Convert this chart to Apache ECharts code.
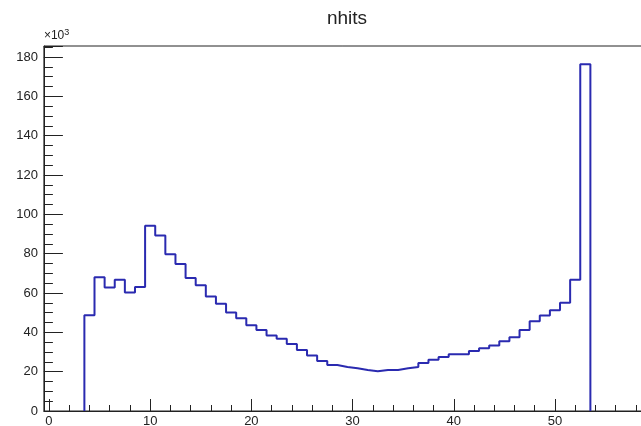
<!DOCTYPE html>
<html>
<head>
<meta charset="utf-8">
<script src="https://cdn.jsdelivr.net/npm/echarts@6/dist/echarts.min.js"></script>
<style>
    html, body { margin: 0; padding: 0; background: #fff; }
    #chart { width: 641px; height: 426px; }
</style>
</head>
<body>
<div id="chart"></div>
<script>
// histogram nhits, bin width 1, bins centred on integers
const firstBin = 4
const binValues = [
    48.7, 68.0, 62.8, 66.7, 60.3, 63.1, 94.2, 89.2, 79.7, 74.7,
    67.6, 64.0, 58.2, 54.5, 50.1, 47.2, 43.6, 41.2, 38.4, 36.8,
    34.1, 31.0, 28.2, 25.4, 23.4, 22.4, 21.7, 20.9, 20.2, 20.9,
    20.9, 21.7, 22.4, 24.4, 26.0, 27.5, 28.9, 28.9, 30.5, 31.9,
    33.3, 35.5, 37.5, 41.2, 45.6, 48.5, 51.2, 55.0, 66.7, 176.3
]
const yTicks = [0, 20, 40, 60, 80, 100, 120, 140, 160, 180]
const xTicks = [0, 10, 20, 30, 40, 50]

const chat = echarts.init(document.getElementById('chart'), null, { width: 641, height: 426 })

// bin edges -> step line
const lastBin = firstBin + binValues.length - 1
const steps = [[firstBin - 0.5, 0]]
binValues.forEach((v, i) => {
    steps.push([firstBin + i - 0.5, v])
})
steps.push([lastBin + 0.5, binValues[binValues.length - 1]])
steps.push([lastBin + 0.5, 0])

const pxPerUnit = 10.12
const xMin = -0.5
const xMax = 60
const yMax = 185.6
const frameLeft = 43.9
const font = 'Liberation Sans'
const ink = '#222'

// frame runs past the right edge of the picture (cropped like the original)
const frameGrid = {
    left: frameLeft, top: 46, bottom: 15,
    width: (xMax - xMin) * pxPerUnit,
    outerBoundsMode: 'none',
    containLabel: false
}
const noLine = { show: false, onZero: false }

const option = {
    animation: false,
    title: {
        text: 'nhits',
        left: 342,
        top: 4,
        textAlign: 'center',
        textStyle: { fontFamily: font, fontSize: 19, fontWeight: 'normal', color: ink }
    },
    grid: [
        // 0: frame + data
        Object.assign({ show: true, borderColor: ink, borderWidth: 1 }, frameGrid),
        // 1: x ticks, starts at 0
        {
            left: frameLeft + (0 - xMin) * pxPerUnit, top: 46, bottom: 15,
            width: xMax * pxPerUnit,
            outerBoundsMode: 'none',
            containLabel: false
        },
        // 2: same box as 0, only for the small y ticks
        Object.assign({}, frameGrid)
    ],
    xAxis: [
        {
            type: 'value', gridIndex: 0, min: xMin, max: xMax,
            axisLine: { show: true, onZero: false, lineStyle: { color: ink, width: 1 } },
            axisTick: { show: false }, axisLabel: { show: false }, splitLine: { show: false }
        },
        {
            type: 'value', gridIndex: 1, min: 0, max: xMax, interval: 10,
            axisLine: noLine,
            axisTick: { show: true, inside: true, length: 12, lineStyle: { color: ink } },
            axisLabel: {
                margin: 4, fontFamily: font, fontSize: 13, color: ink,
                formatter: v => xTicks.includes(v) ? String(v) : ''
            },
            splitLine: { show: false }
        },
        {
            type: 'value', gridIndex: 1, min: 0, max: xMax, interval: 2, position: 'bottom',
            axisLine: noLine,
            axisTick: { show: true, inside: true, length: 6, lineStyle: { color: ink } },
            axisLabel: { show: false }, splitLine: { show: false }
        },
        {
            type: 'value', gridIndex: 2, min: xMin, max: xMax, show: false
        }
    ],
    yAxis: [
        {
            type: 'value', gridIndex: 0, min: 0, max: yMax, interval: 20,
            name: '×10{s|3}',
            nameLocation: 'end',
            nameGap: 2,
            nameTextStyle: {
                align: 'left', fontFamily: font, fontSize: 12, color: ink, padding: [0, 0, 0, 0],
                rich: { s: { fontFamily: font, fontSize: 9, color: ink, verticalAlign: 'top', padding: [0, 0, 7, 0] } }
            },
            axisLine: { show: true, onZero: false, lineStyle: { color: ink, width: 1 } },
            axisTick: { show: true, inside: true, length: 19, lineStyle: { color: ink } },
            axisLabel: {
                margin: 6, fontFamily: font, fontSize: 13, color: ink,
                formatter: v => yTicks.includes(v) ? String(v) : ''
            },
            splitLine: { show: false }
        },
        {
            type: 'value', gridIndex: 1, min: 0, max: yMax, show: false
        },
        {
            type: 'value', gridIndex: 2, min: 0, max: yMax, interval: 5,
            axisLine: noLine,
            axisTick: { show: true, inside: true, length: 9, lineStyle: { color: ink } },
            axisLabel: { show: false }, splitLine: { show: false }
        }
    ],
    series: [
        {
            type: 'line',
            xAxisIndex: 0,
            yAxisIndex: 0,
            step: 'end',
            data: steps,
            showSymbol: false,
            lineStyle: { color: '#2a2ab0', width: 2 }
        }
    ]
}
chat.setOption(option)
</script>
</body>
</html>
